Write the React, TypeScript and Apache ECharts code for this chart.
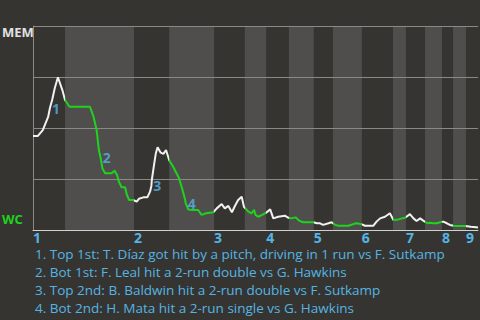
import React, { useEffect, useRef } from "react";
import * as echarts from "echarts";

// x: game progress (% of the game timeline); y: MEM win probability (0 = WC, 1 = MEM)
const progress = [
  0, 0.9, 1.1, 2.2, 3.4, 3.8, 4.3, 4.9, 5.6, 6.6, 7.2,
  8.2, 12.8, 13.6, 14.3, 14.8, 15.2, 15.6, 16.2, 17.7, 18.3, 18.9, 19.3, 19.9, 20.7, 21.1, 21.6, 22.5,
  23.3, 23.8, 24.8, 25.7, 26.3, 26.6, 26.7, 27.2, 27.6, 28.0, 28.7, 29.3, 29.9, 30.6,
  30.8, 31.5, 32.8, 33.6, 34.2, 34.3, 34.9, 36.0, 37.1, 37.9, 38.9, 40.5,
  41.3, 42.4, 43.1, 43.9, 44.7, 45.4, 46.1, 46.9, 47.4,
  48.4, 49.1, 49.7, 50.0, 50.6, 51.5, 52.4,
  53.3, 54.0, 55.1, 56.6, 57.4,
  58.1, 59.0, 59.8, 60.7, 63.0,
  63.8, 64.5, 65.2, 66.4, 67.1,
  67.9, 68.6, 70.9, 72.0, 72.7, 73.9,
  74.6, 76.5, 77.2, 78.0, 79.1, 80.2,
  81.0, 82.1, 82.9, 83.6,
  84.7, 85.5, 86.2, 87.0, 87.7,
  88.6, 89.2, 90.0, 90.7, 91.5,
  92.2, 93.0, 93.7,
  94.8, 97.1,
  98.4, 99.6, 100,
];
const memWinProb = [
  0.461, 0.461, 0.461, 0.49, 0.554, 0.598, 0.637, 0.696, 0.749, 0.686, 0.637,
  0.604, 0.604, 0.555, 0.49, 0.392, 0.353, 0.302, 0.278, 0.278, 0.291, 0.27, 0.237, 0.209, 0.209, 0.172, 0.147, 0.147,
  0.139, 0.153, 0.16, 0.16, 0.188, 0.216, 0.245, 0.319, 0.376, 0.405, 0.379, 0.373, 0.392, 0.343,
  0.335, 0.31, 0.255, 0.196, 0.147, 0.132, 0.101, 0.098, 0.098, 0.074, 0.082, 0.087,
  0.106, 0.127, 0.106, 0.118, 0.087, 0.119, 0.147, 0.163, 0.114,
  0.09, 0.082, 0.098, 0.074, 0.065, 0.074, 0.085,
  0.101, 0.057, 0.065, 0.07, 0.06,
  0.057, 0.062, 0.046, 0.038, 0.038,
  0.033, 0.033, 0.025, 0.033, 0.038,
  0.025, 0.021, 0.021, 0.029, 0.033, 0.028,
  0.021, 0.021, 0.041, 0.057, 0.065, 0.082,
  0.049, 0.052, 0.057, 0.06,
  0.078, 0.057, 0.044, 0.057, 0.046,
  0.033, 0.036, 0.033, 0.033, 0.038,
  0.041, 0.033, 0.025,
  0.02, 0.02,
  0.016, 0.013, 0.012,
];

// half-inning start positions (top 1st, bottom 1st, top 2nd, ...)
const halfInningStarts = [0, 7.2, 22.7, 30.6, 40.7, 47.6, 52.4, 57.5, 63.1, 67.4, 73.9, 80.9, 83.8, 88.1, 91.9, 94.4, 97.3];
const gameEnd = 100;
const inningLabels = ["1", "2", "3", "4", "5", "6", "7", "8", "9"];

const eventNumbers = ["1", "2", "3", "4"];
const eventProgress = [3.8, 15.2, 26.6, 34.3];
const eventProb = [0.598, 0.353, 0.216, 0.132];
const eventTexts = [
  "1. Top 1st: T. Díaz got hit by a pitch, driving in 1 run vs F. Sutkamp",
  "2. Bot 1st: F. Leal hit a 2-run double vs G. Hawkins",
  "3. Top 2nd: B. Baldwin hit a 2-run double vs F. Sutkamp",
  "4. Bot 2nd: H. Mata hit a 2-run single vs G. Hawkins",
];

const topTeam = "MEM";
const bottomTeam = "WC";

const BG = "#363430";
const BAND = "#4f4e4c";
const GRID = "#8a8986";
const WHITE = "#f0f0f0";
const GREEN = "#1ed31e";
const BLUE = "#55b4e4";
const FONT = "'Open Sans'";

export default function App() {
  const ref = useRef<HTMLDivElement>(null);
  useEffect(() => {
    if (!ref.current) return;
    const chart = echarts.init(ref.current, null, { renderer: "svg" });

    const halfEnds = halfInningStarts.slice(1).concat([gameEnd]);
    const bands: any[] = [];
    const pieces: any[] = [];
    halfInningStarts.forEach((s, i) => {
      const e = halfEnds[i];
      if (i % 2 === 1) bands.push([{ xAxis: s }, { xAxis: e }]);
      pieces.push({ gte: s, lt: i === halfInningStarts.length - 1 ? gameEnd + 1 : e, color: i % 2 === 0 ? WHITE : GREEN });
    });
    const inningStarts = halfInningStarts.filter((_, i) => i % 2 === 0);

    const captionTexts = eventTexts.map((t, i) => ({
      type: "text",
      x: 35,
      y: 254 + i * 18,
      style: { text: t, fill: BLUE, font: `13.5px ${FONT}`, verticalAlign: "middle", align: "left" },
    }));

    chart.setOption({
      animation: false,
      backgroundColor: BG,
      grid: { left: 33, right: 2, top: 26, bottom: 90 },
      graphic: [
        { type: "text", left: 2, top: 25, style: { text: topTeam, fill: "#e2e2e2", font: `bold 13px ${FONT}` } },
        { type: "text", left: 2, top: 212, style: { text: bottomTeam, fill: GREEN, font: `bold 13px ${FONT}` } },
        ...captionTexts,
      ],
      visualMap: {
        type: "piecewise",
        show: false,
        dimension: 0,
        seriesIndex: 1,
        pieces,
      },
      xAxis: {
        type: "value",
        min: 0,
        max: gameEnd,
        z: 2,
        axisLine: { show: true, lineStyle: { color: "#d0d0d0", width: 1 } },
        axisTick: { show: false },
        splitLine: { show: false },
        axisLabel: {
          customValues: inningStarts,
          formatter: (v: number) => {
            const idx = inningStarts.findIndex((s) => Math.abs(s - v) < 1e-6);
            return idx >= 0 ? inningLabels[idx] : "";
          },
          align: "left",
          margin: 0,
          color: BLUE,
          fontWeight: "bold",
          fontSize: 14,
          fontFamily: FONT,
        },
      },
      yAxis: {
        type: "value",
        min: 0,
        max: 1,
        interval: 0.25,
        z: 2,
        axisLine: { show: true, lineStyle: { color: GRID, width: 1 } },
        axisTick: { show: false },
        axisLabel: { show: false },
        splitLine: { show: true, lineStyle: { color: GRID, width: 1 } },
      },
      series: [
        {
          type: "line",
          data: [[0, 0]],
          symbol: "none",
          lineStyle: { opacity: 0 },
          z: 1,
          markArea: { silent: true, itemStyle: { color: BAND }, data: bands },
        },
        {
          type: "line",
          z: 3,
          data: progress.map((x, i) => [x, memWinProb[i]]),
          symbol: "none",
          lineStyle: { width: 2 },
        },
        {
          type: "scatter",
          z: 4,
          symbolSize: 0,
          data: eventProgress.map((x, i) => [x, eventProb[i]]),
          label: {
            show: true,
            position: "right",
            distance: 2,
            formatter: (p: any) => eventNumbers[p.dataIndex],
            color: BLUE,
            fontWeight: "bold",
            fontSize: 14,
            fontFamily: FONT,
          },
        },
      ],
    });
    return () => chart.dispose();
  }, []);
  return <div ref={ref} style={{ position: "fixed", left: 0, top: 0, width: 480, height: 320 }} />;
}
